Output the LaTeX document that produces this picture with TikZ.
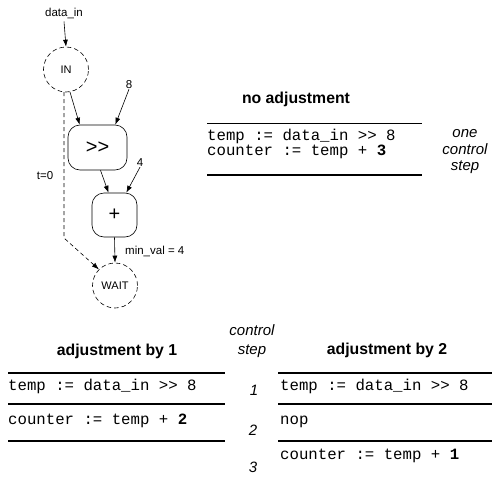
\documentclass[tikz,border=0pt]{standalone}
\usepackage{fontspec}
\setmainfont{Liberation Sans}
\setmonofont{Liberation Mono}
\usetikzlibrary{arrows.meta}
\begin{document}
\begin{tikzpicture}[x=1pt,y=-1pt,
  arr/.style={-{Latex[length=7pt,width=5pt]},line width=0.6pt},
  darr/.style={-{Latex[length=7pt,width=5pt]},line width=0.6pt,dash pattern=on 4pt off 3pt},
  state/.style={circle,draw,dash pattern=on 4.5pt off 3pt,line width=0.6pt,minimum size=45pt,inner sep=0pt,font=\fontsize{11}{13}\selectfont},
  op/.style={draw,rounded corners=12pt,line width=0.6pt,inner sep=0pt,font=\fontsize{20}{24}\selectfont},
  lbl/.style={inner sep=0pt,font=\fontsize{11.5}{14}\selectfont},
  head/.style={inner sep=0pt,anchor=mid,font=\fontsize{15.8}{18}\selectfont\bfseries},
  code/.style={inner sep=0pt,anchor=mid west,font=\fontsize{15.7}{18}\ttfamily},
  ital/.style={inner sep=0pt,anchor=mid,font=\fontsize{15}{18}\selectfont\itshape},
  num/.style={inner sep=0pt,anchor=center,font=\fontsize{15}{18}\selectfont\itshape},
  rule/.style={line width=1.8pt}]
\useasboundingbox (0,0) rectangle (492,479);
% graph
\node[lbl] (din) at (64,13) {data\_in};
\node[state] (IN) at (66,69.5) {IN};
\node[op,minimum width=59pt,minimum height=45pt] (sr) at (97.5,147.5) {>\kern0pt>};
\node[lbl] (eight) at (129,85) {8};
\node[op,minimum width=45pt,minimum height=44pt] (plus) at (114.5,215) {+};
\node[lbl] (four) at (140,163) {4};
\node[state] (WAIT) at (115,285.5) {WAIT};
\node[lbl] (t0) at (45,176) {t=0};
\node[lbl,anchor=mid west] (mv) at (125,252) {min\_val = 4};
\coordinate (bend) at (64,238);
\draw[arr] (din.south) ++(0,3) coordinate (dtop) (dtop) -- (IN.north);
\draw[arr] (IN.-80) -- ([xshift=12pt]sr.north west);
\draw[arr] (eight.south) -- ([xshift=-12pt]sr.north east);
\draw[arr] ([xshift=3pt]sr.south) -- ([xshift=-6pt]plus.north);
\draw[arr] (four.south) -- ([xshift=-11pt]plus.north east);
\draw[arr] (plus.south) -- (WAIT.north);
\draw[darr] (IN.-95) -- (bend) -- (WAIT.135);
% top table
\node[head] (h0) at (296,101) {no adjustment};
\draw[rule] (207,123.5) coordinate (r0a) -- (422,123.5) coordinate (r0b);
\node[code] (c01) at (207,137.5) {temp := data\_in >> 8};
\node[code] (c02) at (207,153) {counter := temp + \textbf{3}};
\draw[rule] (207,175) coordinate (r1a) -- (422,175) coordinate (r1b);
\node[ital] (one) at (465,135) {one};
\node[ital] (ctl) at (465,152) {control};
\node[ital] (stp) at (465,168) {step};
% bottom left table
\node[head] (h1) at (117,353) {adjustment by 1};
\draw[rule] (8,373) coordinate (l0a) -- (225,373) coordinate (l0b);
\node[code] (c11) at (8,388) {temp := data\_in >> 8};
\draw[rule] (8,404) coordinate (l1a) -- (225,404) coordinate (l1b);
\node[code] (c12) at (8,422) {counter := temp + \textbf{2}};
\draw[rule] (8,441) coordinate (l2a) -- (225,441) coordinate (l2b);
% control step column
\node[ital] (cs1) at (252,333) {control};
\node[ital] (cs2) at (252,352) {step};
\node[num] (n1) at (254,390) {1};
\node[num] (n2) at (253,430) {2};
\node[num] (n3) at (253,467) {3};
% bottom right table
\node[head] (h2) at (387,352) {adjustment by 2};
\draw[rule] (278,373) coordinate (q0a) -- (492,373) coordinate (q0b);
\node[code] (c21) at (280,388) {temp := data\_in >> 8};
\draw[rule] (278,404) coordinate (q1a) -- (492,404) coordinate (q1b);
\node[code] (c22) at (280,422) {nop};
\draw[rule] (278,441) coordinate (q2a) -- (492,441) coordinate (q2b);
\node[code] (c23) at (280,457) {counter := temp + \textbf{1}};
\end{tikzpicture}
\end{document}
